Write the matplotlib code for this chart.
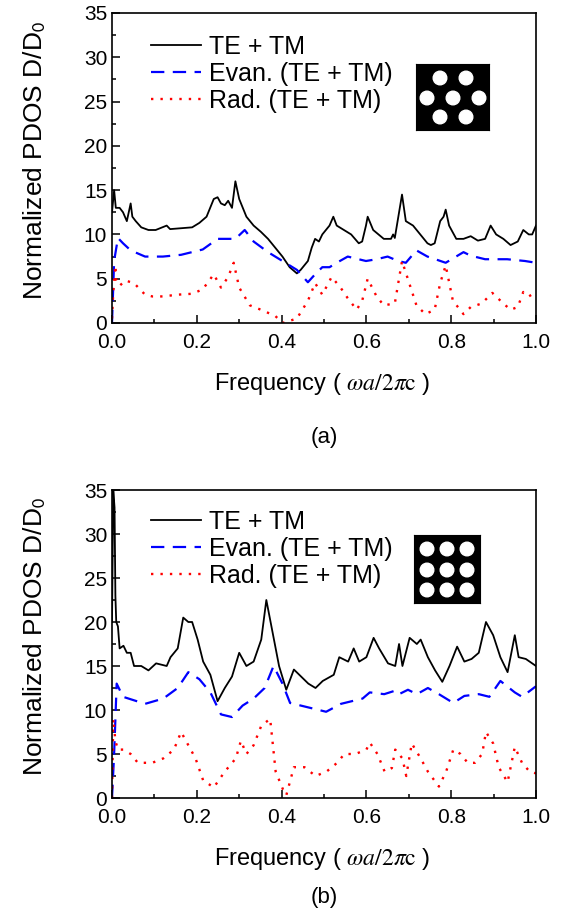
import matplotlib
matplotlib.use('Agg')
import matplotlib.pyplot as plt
from matplotlib.ticker import MultipleLocator, FormatStrFormatter
from matplotlib.patches import Circle

plt.rcParams['font.family'] = ['Liberation Sans', 'DejaVu Sans']
plt.rcParams['mathtext.fontset'] = 'stix'

# ---- panel (a): triangular lattice ----
fa_total = [0.000, 0.005, 0.009, 0.018, 0.026, 0.035, 0.044, 0.048, 0.056, 0.069,
            0.086, 0.103, 0.129, 0.137, 0.163, 0.189, 0.206, 0.223, 0.240, 0.249,
            0.257, 0.266, 0.274, 0.283, 0.291, 0.300, 0.317, 0.334, 0.351, 0.368,
            0.385, 0.402, 0.419, 0.436, 0.445, 0.462, 0.471, 0.479, 0.488, 0.496,
            0.513, 0.522, 0.530, 0.547, 0.564, 0.582, 0.590, 0.599, 0.603, 0.616,
            0.641, 0.658, 0.663, 0.667, 0.684, 0.693, 0.710, 0.727, 0.744, 0.752,
            0.761, 0.774, 0.782, 0.787, 0.795, 0.812, 0.829, 0.846, 0.863, 0.880,
            0.893, 0.906, 0.923, 0.940, 0.957, 0.970, 0.983, 0.991, 1.000]
va_total = [12.5, 15, 13, 13, 12.5, 11.5, 13.5, 12, 11.5, 10.8,
            10.5, 10.5, 11, 10.6, 10.7, 10.8, 11.3, 12, 14, 14.2,
            13.5, 13.3, 13.8, 13, 16, 14, 12, 11, 10.3, 9.5,
            8.5, 7.5, 6.3, 5.6, 6, 7, 8.5, 9.5, 9.2, 10,
            11, 12, 11, 10.5, 10, 9, 9.2, 11, 12, 10.5,
            9.5, 9.5, 10, 9.6, 14.5, 11.5, 11, 10, 9, 8.8,
            9, 11.5, 12, 12.8, 11, 9.5, 9.5, 9.8, 9.3, 9.5,
            11, 10, 9.5, 8.8, 9.2, 10.5, 10, 10, 11]

fa_evan = [0.000, 0.005, 0.014, 0.026, 0.044, 0.078, 0.120, 0.163, 0.214, 0.249,
           0.291, 0.313, 0.334, 0.368, 0.402, 0.436, 0.462, 0.479, 0.496, 0.513,
           0.530, 0.556, 0.573, 0.599, 0.624, 0.650, 0.675, 0.693, 0.718, 0.744,
           0.787, 0.829, 0.846, 0.880, 0.932, 0.974, 1.000]
va_evan = [0, 7, 9.6, 9, 8.2, 7.5, 7.5, 7.7, 8.3, 9.5,
           9.5, 10.5, 9.2, 8, 7, 6, 4.6, 5.5, 6.3, 6.3,
           6.8, 7.5, 7.3, 7, 7.2, 7.5, 7.0, 6.8, 8.2, 7.5,
           6.8, 8, 7.6, 7.2, 7.2, 7.0, 6.8]

fa_rad = [0.000, 0.003, 0.008, 0.009, 0.018, 0.031, 0.052, 0.078, 0.095, 0.120,
          0.155, 0.189, 0.214, 0.240, 0.257, 0.274, 0.287, 0.300, 0.325, 0.351,
          0.385, 0.402, 0.436, 0.462, 0.479, 0.496, 0.518, 0.539, 0.556, 0.577,
          0.590, 0.603, 0.624, 0.641, 0.667, 0.684, 0.701, 0.718, 0.739, 0.761,
          0.774, 0.787, 0.804, 0.821, 0.829, 0.846, 0.872, 0.897, 0.923, 0.940,
          0.957, 0.970, 0.983, 1.000]
va_rad = [0.5, 3.5, 6.5, 5, 4.2, 4.8, 4.5, 3.2, 3.0, 3.0,
          3.2, 3.3, 3.8, 5.5, 4, 5.2, 6.8, 4, 2, 1.5,
          0.8, 0, 0.5, 2.5, 4.5, 3.2, 5.2, 4, 2.8, 1.5,
          2.5, 5, 3, 2, 2.2, 7, 4.5, 2, 1.0, 1.5,
          4.5, 6.5, 2.5, 1.5, 1.0, 1.8, 2.2, 3.4, 2.2, 1.5,
          1.8, 3.5, 3, 3.5]

# ---- panel (b): square lattice ----
fb_total = [0.000, 0.003, 0.006, 0.008, 0.010, 0.014, 0.018, 0.027, 0.035, 0.044,
            0.052, 0.069, 0.086, 0.104, 0.129, 0.138, 0.155, 0.168, 0.180, 0.189,
            0.202, 0.215, 0.232, 0.249, 0.266, 0.283, 0.300, 0.317, 0.334, 0.352,
            0.364, 0.382, 0.394, 0.411, 0.429, 0.446, 0.463, 0.480, 0.497, 0.523,
            0.536, 0.557, 0.570, 0.583, 0.600, 0.617, 0.630, 0.651, 0.668, 0.677,
            0.685, 0.702, 0.719, 0.728, 0.745, 0.762, 0.779, 0.796, 0.814, 0.831,
            0.848, 0.865, 0.882, 0.899, 0.916, 0.933, 0.950, 0.959, 0.976, 1.000]
vb_total = [20, 35, 33, 23, 20, 19.5, 17, 17.3, 16.5, 16.5,
            15, 15, 14.5, 15.3, 15, 16, 17, 20.5, 20, 20,
            18, 15.5, 14, 11, 12.5, 13.8, 16.5, 15, 15.5, 18,
            22.5, 18, 15, 12.3, 14.6, 13.8, 13, 12.5, 13.3, 14,
            16, 15.5, 17, 15.5, 16, 18.2, 17, 15.3, 15, 17.5,
            15, 18.2, 17.5, 18, 16, 14.5, 13.2, 15, 17.2, 15.5,
            15.8, 16.5, 20, 18.5, 16, 14.3, 18.5, 16, 15.8, 15]

fb_evan = [0.000, 0.005, 0.011, 0.026, 0.078, 0.121, 0.155, 0.180, 0.206, 0.232,
           0.257, 0.283, 0.308, 0.334, 0.360, 0.381, 0.402, 0.420, 0.471, 0.505,
           0.540, 0.591, 0.608, 0.642, 0.668, 0.677, 0.698, 0.719, 0.745, 0.771,
           0.805, 0.831, 0.865, 0.890, 0.916, 0.950, 0.967, 1.000]
vb_evan = [0, 5, 13, 11.5, 10.7, 11.3, 12.5, 14.3, 13.5, 12,
           9.5, 9.2, 10.5, 11.3, 12.5, 15, 13, 10.8, 10.2, 9.8,
           10.7, 11.3, 12, 11.8, 12.2, 11.8, 12.3, 11.8, 12.5, 11.8,
           10.8, 11.6, 11.8, 11.5, 13.3, 12, 11.5, 12.7]

fb_rad = [0.000, 0.003, 0.008, 0.014, 0.027, 0.044, 0.061, 0.095, 0.121, 0.146,
          0.163, 0.180, 0.197, 0.215, 0.240, 0.266, 0.292, 0.304, 0.317, 0.334,
          0.352, 0.373, 0.386, 0.403, 0.411, 0.429, 0.454, 0.480, 0.506, 0.531,
          0.548, 0.574, 0.600, 0.608, 0.626, 0.643, 0.660, 0.668, 0.685, 0.694,
          0.707, 0.728, 0.745, 0.771, 0.788, 0.805, 0.822, 0.839, 0.856, 0.873,
          0.882, 0.899, 0.912, 0.933, 0.950, 0.967, 0.985, 1.000]
vb_rad = [0, 9, 6.5, 5.5, 5.5, 5, 4, 4, 4.5, 5.5,
          7.5, 6, 4.5, 2, 1.2, 3, 4.5, 6.5, 5, 6,
          8.2, 9, 3, 1, 0.3, 3.5, 3.5, 2.5, 3, 4,
          5, 5, 5.5, 6.3, 5, 3, 3.4, 5.5, 4.5, 2.5,
          6.2, 4.5, 3, 1.3, 3, 5.5, 5, 4, 4, 5,
          7.5, 6.2, 3.5, 1.8, 5.8, 4, 3, 2.8]

labels = ['TE + TM', 'Evan. (TE + TM)', 'Rad. (TE + TM)']

# inset hole positions (px inside the inset square)
holes_a = [(24, 52), (50, 52), (11, 32), (37, 32), (63, 32), (24, 13), (50, 13)]
holes_b = [(x, y) for y in (54, 33, 13) for x in (13, 33, 53)]

W, H = 567, 922
fig = plt.figure(figsize=(W / 100, H / 100), dpi=100)


def draw_panel(rect, total, evan, rad, legend_y):
    ax = fig.add_axes(rect)
    ax.plot(total[0], total[1], color='black', lw=1.3, label=labels[0])
    ax.plot(evan[0], evan[1], color='#0000ff', lw=1.6,
            linestyle=(0, (6, 3.8)), label=labels[1])
    ax.plot(rad[0], rad[1], color='#ff0000', lw=1.7,
            linestyle=(0, (1, 3)), label=labels[2])
    ax.set_xlim(0, 1)
    ax.set_ylim(0, 35)
    ax.xaxis.set_major_locator(MultipleLocator(0.2))
    ax.xaxis.set_minor_locator(MultipleLocator(0.1))
    ax.xaxis.set_major_formatter(FormatStrFormatter('%.1f'))
    ax.yaxis.set_major_locator(MultipleLocator(5))
    ax.yaxis.set_minor_locator(MultipleLocator(2.5))
    ax.tick_params(which='both', direction='in', top=False, right=False,
                   labelsize=15, width=1.1)
    ax.tick_params(which='major', length=6)
    ax.tick_params(which='minor', length=3)
    ax.tick_params(axis='x', pad=7.5)
    ax.tick_params(axis='y', pad=3.5)
    for s in ax.spines.values():
        s.set_linewidth(1.2)
    ax.legend(loc='upper left', bbox_to_anchor=(0.092, legend_y),
              frameon=False, fontsize=18, handlelength=2.0,
              handletextpad=0.3, labelspacing=0.12, borderpad=0,
              borderaxespad=0)
    return ax


def draw_inset(x0, y0, w, h, holes):
    ins = fig.add_axes([x0 / W, 1 - (y0 + h) / H, w / W, h / H])
    ins.set_xlim(0, w)
    ins.set_ylim(0, h)
    ins.set_facecolor('black')
    ins.set_xticks([])
    ins.set_yticks([])
    for cx, cy in holes:
        ins.add_patch(Circle((cx, cy), 6.8, color='white'))


ax_a = draw_panel([112 / W, 1 - 323 / H, 424 / W, 310 / H],
                  (fa_total, va_total), (fa_evan, va_evan), (fa_rad, va_rad), 0.93)
ax_b = draw_panel([112 / W, 1 - 798 / H, 424 / W, 308 / H],
                  (fb_total, vb_total), (fb_evan, vb_evan), (fb_rad, vb_rad), 0.935)

draw_inset(416, 64, 73, 66, holes_a)
draw_inset(414, 535, 66, 68, holes_b)

xlab = r'Frequency ( $\omega a/2\pi\mathrm{c}$ )'
ylab = r'Normalized PDOS D/D$_\mathsf{0}$'
for yc, ylc, tag, yt in [(384, 160, '(a)', 437), (859, 636, '(b)', 897)]:
    fig.text(322 / W, 1 - yc / H, xlab, ha='center', va='center', fontsize=17)
    fig.text(35 / W, 1 - ylc / H, ylab, ha='center', va='center',
             rotation=90, fontsize=19)
    fig.text(324 / W, 1 - yt / H, tag, ha='center', va='center', fontsize=16)

fig.savefig('out.png', dpi=100)
